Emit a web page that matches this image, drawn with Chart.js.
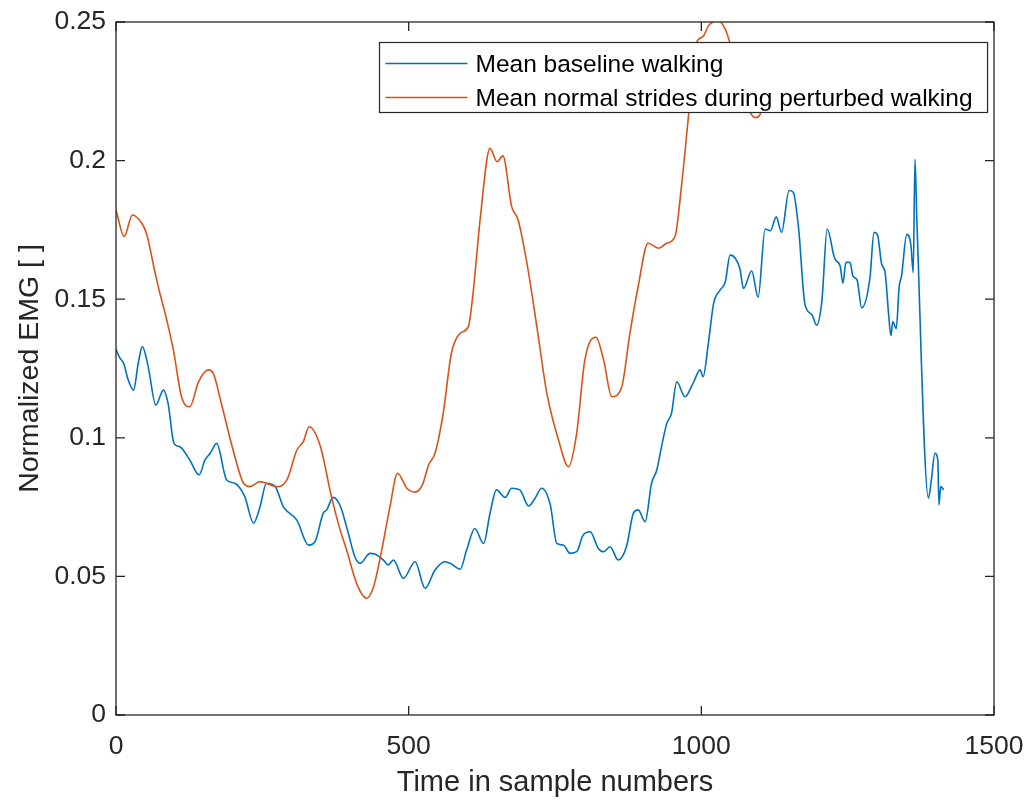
<!DOCTYPE html>
<html>
<head>
<meta charset="utf-8">
<script src="https://cdn.jsdelivr.net/npm/chart.js@4.4.1/dist/chart.umd.min.js"></script>
<style>
  body { margin: 0; background: #fff; }
  #wrap { width: 1030px; height: 800px; position: relative; }
</style>
</head>
<body>
<div id="wrap"><canvas id="emg"></canvas></div>
<script>
const baselineSamples = [0, 6, 13, 21, 30, 38, 45, 55, 68, 81, 89, 99, 109, 126, 142, 152, 161, 172, 189, 203,
  220, 235, 246, 257, 272, 286, 309, 329, 340, 354, 360, 371, 383, 397, 408, 417, 434, 442, 457, 465,
  474, 491, 511, 528, 545, 562, 573, 588, 599, 613, 628, 639, 650, 665, 676, 690, 705, 716, 727, 742,
  753, 764, 776, 787, 798, 810, 824, 833, 844, 858, 872, 884, 892, 904, 915, 924, 932, 941, 949, 958,
  972, 986, 998, 1003, 1012, 1021, 1032, 1041, 1049, 1058, 1066, 1072, 1086, 1097, 1109, 1118, 1128, 1137, 1150, 1157,
  1166, 1177, 1189, 1197, 1206, 1215, 1228, 1237, 1242, 1247, 1254, 1259, 1266, 1274, 1288, 1295, 1301, 1308, 1314, 1320,
  1324, 1327, 1333, 1338, 1342, 1351, 1358, 1362, 1365, 1368, 1388, 1393, 1399, 1404, 1406, 1409, 1414]
const baselineValues = [0.132, 0.129, 0.1269, 0.1208, 0.1172, 0.1269, 0.1329, 0.1257, 0.1118, 0.1172, 0.1124, 0.098, 0.0968, 0.092, 0.0866, 0.092, 0.0944, 0.098, 0.0848, 0.0836,
  0.0788, 0.0692, 0.0751, 0.0836, 0.0824, 0.0751, 0.0703, 0.0613, 0.0625, 0.0728, 0.074, 0.0785, 0.0755, 0.0655, 0.0571, 0.0547, 0.0583, 0.0581, 0.0559, 0.0541,
  0.0559, 0.0493, 0.0553, 0.0457, 0.0523, 0.0553, 0.0545, 0.0526, 0.0595, 0.0673, 0.0619, 0.0728, 0.0812, 0.0785, 0.0818, 0.0812, 0.0754, 0.0782, 0.0818, 0.0758,
  0.0619, 0.0613, 0.0583, 0.0589, 0.0649, 0.0661, 0.0601, 0.0589, 0.0607, 0.0559, 0.0607, 0.0728, 0.074, 0.0697, 0.0836, 0.0884, 0.0968, 0.1052, 0.1088, 0.1202,
  0.1148, 0.1197, 0.1245, 0.122, 0.1341, 0.1485, 0.1533, 0.1563, 0.1659, 0.1648, 0.1609, 0.1539, 0.1602, 0.1507, 0.1753, 0.1747, 0.1797, 0.1741, 0.1892, 0.1886,
  0.1759, 0.1482, 0.1444, 0.1406, 0.1495, 0.1753, 0.1646, 0.1621, 0.1558, 0.1633, 0.1633, 0.1583, 0.157, 0.1469, 0.1576, 0.1741, 0.1732, 0.1627, 0.1596, 0.1444,
  0.1368, 0.1419, 0.1394, 0.1545, 0.1583, 0.1734, 0.1696, 0.1596, 0.2005, 0.18, 0.0782, 0.0848, 0.0944, 0.092, 0.0758, 0.0824, 0.0812]

const perturbedSamples = [0, 14, 28, 44, 52, 67, 75, 84, 98, 112, 126, 141, 158, 166, 180, 200, 218, 229, 246, 274,
  292, 309, 320, 330, 349, 368, 383, 394, 411, 428, 440, 454, 468, 481, 497, 511, 524, 534, 545, 559,
  573, 588, 602, 610, 622, 639, 651, 661, 676, 687, 702, 719, 736, 756, 773, 787, 801, 820, 833, 847,
  864, 878, 892, 909, 927, 941, 955, 966, 978, 990, 1003, 1012, 1028, 1040, 1050, 1070, 1092, 1100, 1110]
const perturbedValues = [0.1822, 0.1726, 0.1804, 0.1774, 0.1738, 0.1593, 0.1521, 0.1449, 0.1317, 0.1148, 0.1112, 0.1202, 0.1245, 0.1233, 0.1124, 0.0956, 0.0836, 0.0824, 0.0842, 0.0824,
  0.0848, 0.0956, 0.0986, 0.104, 0.097, 0.0788, 0.0667, 0.0595, 0.0475, 0.0421, 0.0463, 0.0595, 0.0751, 0.0872, 0.0818, 0.0804, 0.0833, 0.0902, 0.0944, 0.1088,
  0.1305, 0.1377, 0.1401, 0.1521, 0.1786, 0.2044, 0.1996, 0.2017, 0.1834, 0.1786, 0.163, 0.1401, 0.1161, 0.0992, 0.0896, 0.1016, 0.1281, 0.1363, 0.1281, 0.1148,
  0.1184, 0.1377, 0.1545, 0.1702, 0.1684, 0.1702, 0.1726, 0.1906, 0.216, 0.2417, 0.2448, 0.2486, 0.2505, 0.2478, 0.2417, 0.225, 0.2155, 0.2165, 0.226]

const xTicks = [0, 500, 1000, 1500]
const yTicks = [0, 0.05, 0.1, 0.15, 0.2, 0.25]
const yTickLabels = ['0', '0.05', '0.1', '0.15', '0.2', '0.25']
const seriesLabels = ['Mean baseline walking', 'Mean normal strides during perturbed walking']
const seriesColors = ['#0072BD', '#D95319']

const FONT = "'Liberation Sans', Arial, Helvetica, sans-serif"
const AXIS_COLOR = '#262626'

const toPoints = (xs, ys) => xs.map((x, i) => ({x: x, y: ys[i]}))

// matlab-like box with inward ticks on all four sides
const axesBox = {
  id: 'axesBox',
  afterDatasetsDraw(chart) {
    const {ctx, chartArea: {left, right, top, bottom}, scales: {x, y}} = chart
    const len = 9
    ctx.save()
    ctx.strokeStyle = AXIS_COLOR
    ctx.lineWidth = 1.3
    ctx.strokeRect(left, top, right - left, bottom - top)
    ctx.beginPath()
    xTicks.forEach(v => {
      const px = x.getPixelForValue(v)
      ctx.moveTo(px, bottom); ctx.lineTo(px, bottom - len)
      ctx.moveTo(px, top); ctx.lineTo(px, top + len)
    })
    yTicks.forEach(v => {
      const py = y.getPixelForValue(v)
      ctx.moveTo(left, py); ctx.lineTo(left + len, py)
      ctx.moveTo(right, py); ctx.lineTo(right - len, py)
    })
    ctx.stroke()
    ctx.restore()
  }
}

// legend box inside the plot, top right corner
const insideLegend = {
  id: 'insideLegend',
  afterDraw(chart) {
    const {ctx, chartArea: {right, top}} = chart
    ctx.save()
    ctx.font = '24.5px ' + FONT
    const textW = Math.max(...seriesLabels.map(t => ctx.measureText(t).width))
    const boxW = 96 + textW + 15
    const boxH = 70
    const bx = Math.round(right - 7 - boxW) + 0.5
    const by = top + 20.5
    ctx.fillStyle = '#fff'
    ctx.fillRect(bx, by, boxW, boxH)
    ctx.strokeStyle = AXIS_COLOR
    ctx.lineWidth = 1.2
    ctx.strokeRect(bx, by, boxW, boxH)
    seriesLabels.forEach((label, i) => {
      const ry = by + 21 + i * 34
      ctx.strokeStyle = seriesColors[i]
      ctx.lineWidth = 1.6
      ctx.beginPath()
      ctx.moveTo(bx + 6, ry)
      ctx.lineTo(bx + 88, ry)
      ctx.stroke()
      ctx.fillStyle = '#000'
      ctx.textBaseline = 'middle'
      ctx.fillText(label, bx + 96, ry + 2)
    })
    ctx.restore()
  }
}

new Chart(document.getElementById('emg'), {
  type: 'line',
  data: {
    datasets: [
      {
        label: seriesLabels[0],
        data: toPoints(baselineSamples, baselineValues),
        borderColor: seriesColors[0],
        borderWidth: 1.6,
        pointRadius: 0,
        cubicInterpolationMode: 'monotone',
        order: 1
      },
      {
        label: seriesLabels[1],
        data: toPoints(perturbedSamples, perturbedValues),
        borderColor: seriesColors[1],
        borderWidth: 1.6,
        pointRadius: 0,
        cubicInterpolationMode: 'monotone',
        order: 0
      }
    ]
  },
  options: {
    responsive: true,
    maintainAspectRatio: false,
    animation: false,
    layout: {padding: {top: 22, right: 36, left: 0, bottom: 0}},
    plugins: {
      legend: {display: false},
      tooltip: {enabled: false}
    },
    scales: {
      x: {
        type: 'linear',
        min: 0,
        max: 1500,
        afterBuildTicks: axis => { axis.ticks = xTicks.map(v => ({value: v})) },
        afterFit: axis => {
          axis.height = 85
          axis.paddingLeft = 0
          axis.paddingRight = 0
        },
        grid: {display: false, drawTicks: false},
        border: {display: false},
        ticks: {
          callback: v => String(v),
          font: {size: 26.5, family: FONT},
          color: AXIS_COLOR,
          padding: 16,
          maxRotation: 0
        },
        title: {
          display: true,
          text: 'Time in sample numbers',
          font: {size: 29, family: FONT},
          color: AXIS_COLOR,
          padding: {top: 0, bottom: 0}
        }
      },
      y: {
        min: 0,
        max: 0.25,
        afterBuildTicks: axis => { axis.ticks = yTicks.map(v => ({value: v})) },
        afterFit: axis => {
          axis.width = 116
          axis.paddingTop = 0
          axis.paddingBottom = 0
        },
        grid: {display: false, drawTicks: false},
        border: {display: false},
        ticks: {
          callback: (v, i) => yTickLabels[i],
          font: {size: 26.5, family: FONT},
          color: AXIS_COLOR,
          padding: 10
        },
        title: {
          display: true,
          text: 'Normalized EMG [ ]',
          font: {size: 28.5, family: FONT},
          color: AXIS_COLOR,
          padding: {top: 13, bottom: 0}
        }
      }
    }
  },
  plugins: [axesBox, insideLegend]
})
</script>
</body>
</html>
